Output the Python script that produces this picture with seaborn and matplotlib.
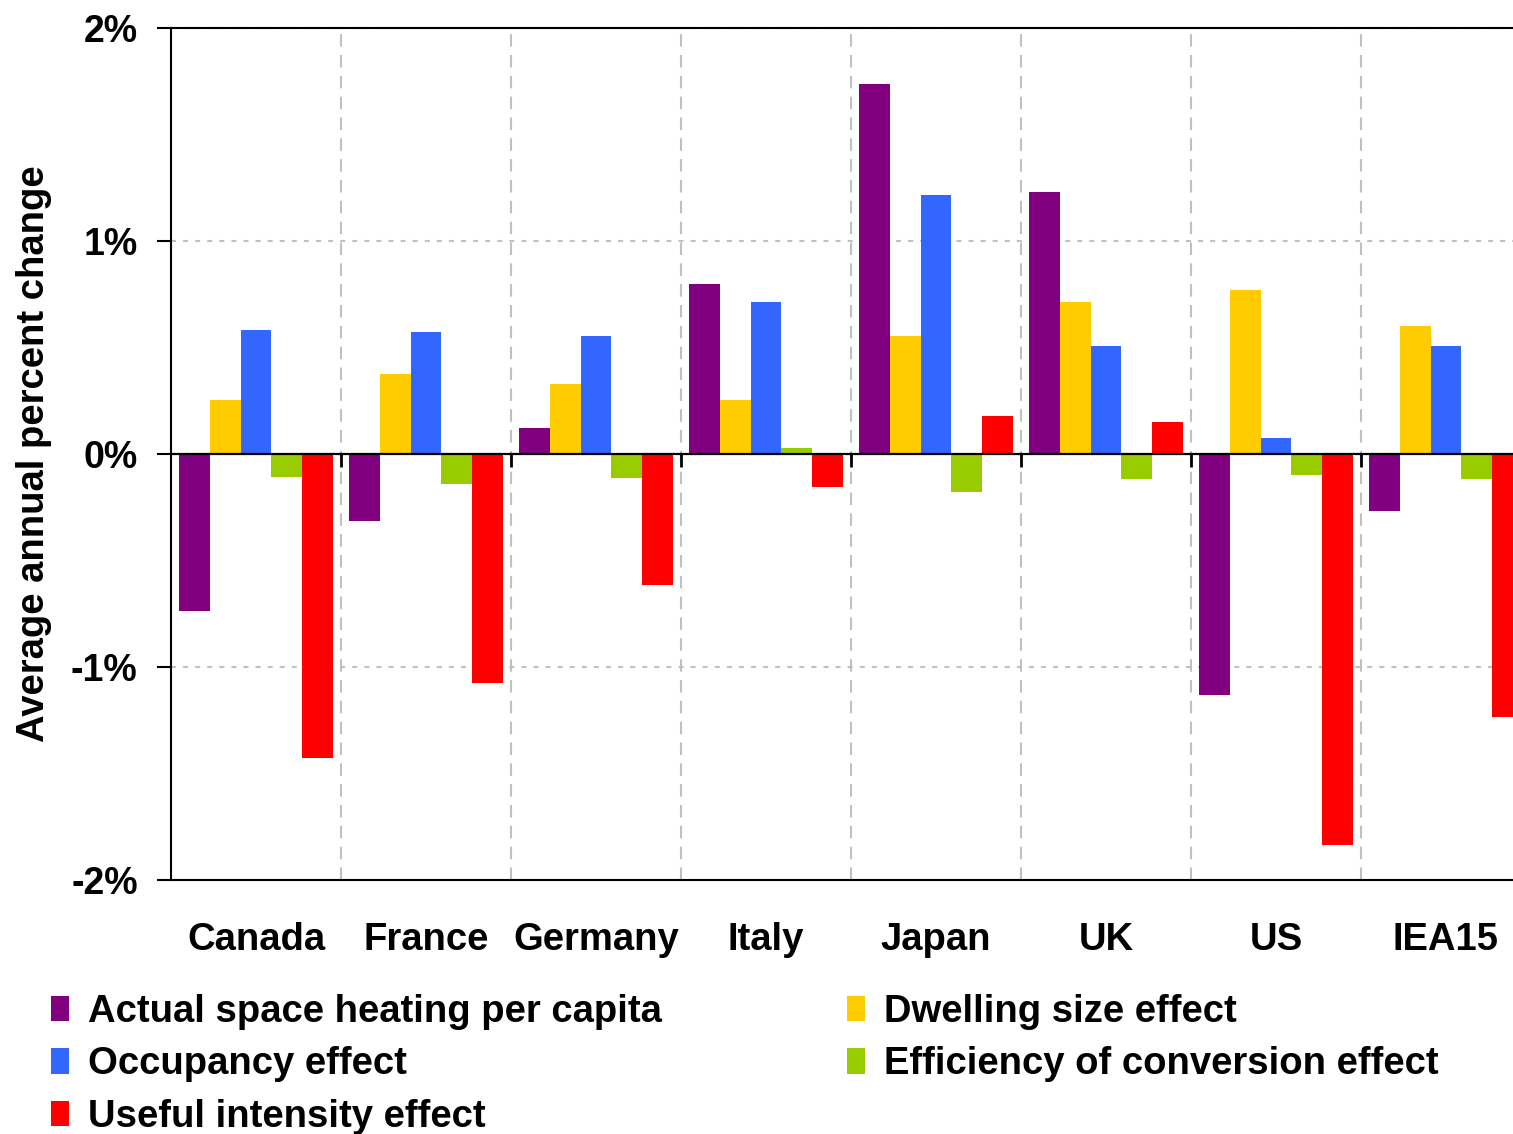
import numpy as np
import pandas as pd
import matplotlib
matplotlib.use("Agg")
import matplotlib.pyplot as plt
from matplotlib.patches import Patch
import seaborn as sns

# -----------------------------
# DATA (average annual % change)
# -----------------------------
countries = ["Canada", "France", "Germany", "Italy", "Japan", "UK", "US", "IEA15"]

actual_per_capita = [-0.736, -0.315, 0.122, 0.798, 1.737, 1.230, -1.131, -0.268]
dwelling_size = [0.254, 0.376, 0.329, 0.254, 0.554, 0.714, 0.770, 0.601]
occupancy = [0.582, 0.573, 0.554, 0.714, 1.216, 0.507, 0.075, 0.507]
conversion_eff = [-0.108, -0.141, -0.113, 0.028, -0.178, -0.117, -0.099, -0.117]
useful_intensity = [-1.427, -1.075, -0.613, -0.155, 0.178, 0.150, -1.836, -1.235]

series_names = [
    "Actual space heating per capita",
    "Dwelling size effect",
    "Occupancy effect",
    "Efficiency of conversion effect",
    "Useful intensity effect",
]
series_colors = ["#800080", "#FFCC00", "#3366FF", "#99CC00", "#FF0000"]

y_ticks = [-2, -1, 0, 1, 2]
y_tick_labels = ["-2%", "-1%", "0%", "1%", "2%"]

# -----------------------------
# LONG FORMAT TABLE
# -----------------------------
all_series = [actual_per_capita, dwelling_size, occupancy, conversion_eff, useful_intensity]
rows = []
for name, vals in zip(series_names, all_series):
    for c, v in zip(countries, vals):
        rows.append({"country": c, "series": name, "value": v})
df = pd.DataFrame(rows)

# -----------------------------
# PLOT
# -----------------------------
sns.set_style("white")
plt.rcParams["font.family"] = ["Liberation Sans", "DejaVu Sans"]
plt.rcParams["font.weight"] = "bold"
plt.rcParams["text.color"] = "black"
plt.rcParams["axes.labelcolor"] = "black"
plt.rcParams["xtick.color"] = "black"
plt.rcParams["ytick.color"] = "black"

fig = plt.figure(figsize=(15.13, 11.34), dpi=100)
ax = fig.add_axes([171 / 1513, 1 - 880 / 1134, 1360 / 1513, 852 / 1134])

sns.barplot(
    data=df, x="country", y="value", hue="series",
    order=countries, hue_order=series_names,
    palette=series_colors, saturation=1, width=0.91, gap=0,
    edgecolor="none", linewidth=0, legend=False, ax=ax, zorder=3,
)

ax.set_xlim(-0.5, len(countries) - 0.5)
ax.set_ylim(-2, 2)
ax.set_yticks(y_ticks)
ax.set_yticklabels(y_tick_labels, fontsize=27, fontweight="bold", color="black")
ax.set_xticks(range(len(countries)))
ax.set_xticklabels(countries, fontsize=27.5, fontweight="bold", color="black")

# grid: dotted horizontal, dashed vertical at group boundaries
bounds = np.arange(0.5, len(countries) - 0.5, 1)
ax.set_xticks(bounds, minor=True)
ax.grid(axis="y", which="major", color="#c0c0c0", lw=1.5, ls=(0, (2.4, 3.4)))
ax.grid(axis="x", which="minor", color="#c0c0c0", lw=1.5, ls=(0, (6, 4)))
ax.grid(axis="x", which="major", visible=False)
ax.set_axisbelow(True)

# zero line with small ticks at group boundaries
ax.axhline(0, color="black", lw=1.6, zorder=4)
ax.vlines(bounds, -0.06, 0, color="black", lw=2, zorder=4)

for side in ["left", "bottom", "top"]:
    ax.spines[side].set_visible(True)
    ax.spines[side].set_color("black")
    ax.spines[side].set_linewidth(1.5)
ax.spines["right"].set_visible(False)

ax.tick_params(axis="y", which="major", length=10, width=1.5, color="black",
               pad=14, left=True)
ax.tick_params(axis="x", which="both", length=0, pad=30.5)

ax.set_xlabel("")
ax.set_ylabel("Average annual percent change", fontsize=27.5, fontweight="bold",
              color="black")
ax.yaxis.set_label_coords(-0.0875, 0.5)

# legend in two columns, placed separately
handles = [Patch(facecolor=c, edgecolor="none") for c in series_colors]
leg_kw = dict(loc="upper left", frameon=False, borderpad=0,
              borderaxespad=0, handlelength=0.48, handleheight=0.64,
              handletextpad=0.48, labelspacing=0.43, labelcolor="black",
              prop={"weight": "bold", "size": 27.5})
fig.legend([handles[0], handles[2], handles[4]],
           [series_names[0], series_names[2], series_names[4]],
           bbox_to_anchor=(51 / 1513, 1 - 994 / 1134), **leg_kw)
fig.legend([handles[1], handles[3]],
           [series_names[1], series_names[3]],
           bbox_to_anchor=(847 / 1513, 1 - 994 / 1134), **leg_kw)

fig.savefig("out.png", dpi=100)
